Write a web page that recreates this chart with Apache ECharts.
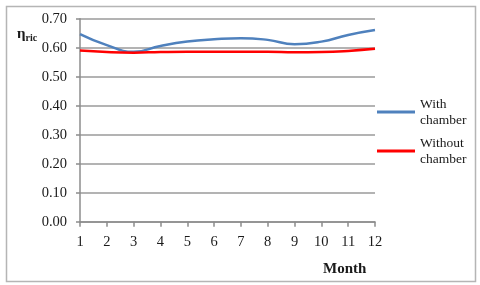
<!DOCTYPE html>
<html>
<head>
<meta charset="utf-8">
<script src="https://cdn.jsdelivr.net/npm/echarts@6/dist/echarts.min.js"></script>
<style>
html,body{margin:0;padding:0;background:#fff;}
#c{width:480px;height:285px;}
</style>
</head>
<body>
<div id="c"></div>
<script>
var months = [1,2,3,4,5,6,7,8,9,10,11,12];
var withChamber = [0.647,0.609,0.586,0.606,0.621,0.629,0.633,0.627,0.612,0.621,0.644,0.661];
var withoutChamber = [0.590,0.585,0.583,0.585,0.586,0.586,0.586,0.586,0.584,0.585,0.589,0.596];
var yTicks = [0,0.1,0.2,0.3,0.4,0.5,0.6,0.7];

var serif = '"Liberation Serif","DejaVu Serif",serif';
var chart = echarts.init(document.getElementById('c'), null, {renderer:'canvas'});
function pairs(xs, ys){ return xs.map(function(x,i){return [x, ys[i]];}); }
var legendText = {fontFamily: serif, fontSize: 13.5, color:'#1a1a1a', lineHeight: 16, padding:[16,0,0,0]};
chart.setOption({
  animation:false,
  backgroundColor:'#fff',
  grid:{left:80, right:105, top:18.7, bottom:63.3},
  xAxis:{
    type:'value', min:months[0], max:months[months.length-1], interval:1,
    axisLine:{show:true, lineStyle:{color:'#8c8c8c', width:1.5}},
    axisTick:{show:true, length:5, lineStyle:{color:'#8c8c8c', width:1.5}},
    axisLabel:{fontFamily:serif, fontSize:14.5, color:'#1a1a1a', margin:13},
    splitLine:{show:false}
  },
  yAxis:{
    type:'value', min:yTicks[0], max:yTicks[yTicks.length-1], interval:0.1,
    axisLine:{show:true, lineStyle:{color:'#8c8c8c', width:1.5}},
    axisTick:{show:true, length:4, lineStyle:{color:'#8c8c8c', width:1.5}},
    axisLabel:{fontFamily:serif, fontSize:14.5, color:'#1a1a1a', margin:13,
      formatter:function(v){return v.toFixed(2);}},
    splitLine:{show:true, lineStyle:{color:'#9a9a9a', width:1.5}}
  },
  legend:[
    {data:['With chamber'], orient:'vertical', left:377, top:88, padding:0,
     icon:'rect', itemWidth:38, itemHeight:3, itemGap:4,
     formatter:function(){return 'With\nchamber';}, textStyle:legendText},
    {data:['Without chamber'], orient:'vertical', left:377, top:127, padding:0,
     icon:'rect', itemWidth:38, itemHeight:3, itemGap:4,
     formatter:function(){return 'Without\nchamber';}, textStyle:legendText}
  ],
  series:[
    {name:'With chamber', type:'line', data:pairs(months, withChamber), smooth:0.5,
     showSymbol:false, symbol:'none', itemStyle:{color:'#4f81bd'}, lineStyle:{color:'#4f81bd', width:2.5}},
    {name:'Without chamber', type:'line', data:pairs(months, withoutChamber), smooth:0.5,
     showSymbol:false, symbol:'none', itemStyle:{color:'#ff0000'}, lineStyle:{color:'#ff0000', width:2.5}}
  ],
  graphic:[
    {type:'rect', left:4, top:4, shape:{width:469, height:275}, style:{fill:'none', stroke:'#b5b5b5', lineWidth:1.5}, silent:true},
    {type:'text', left:17, top:27, style:{
      text:'{a|η}{b|ric}',
      rich:{a:{fontFamily:serif, fontSize:15, fontWeight:'bold', fill:'#1a1a1a'},
            b:{fontFamily:serif, fontSize:10, fontWeight:'bold', fill:'#1a1a1a', padding:[7,0,0,0]}}
    }},
    {type:'text', left:323, top:262, style:{text:'Month', fontFamily:serif, fontSize:15, fontWeight:'bold', fill:'#1a1a1a'}}
  ]
});
</script>
</body>
</html>
